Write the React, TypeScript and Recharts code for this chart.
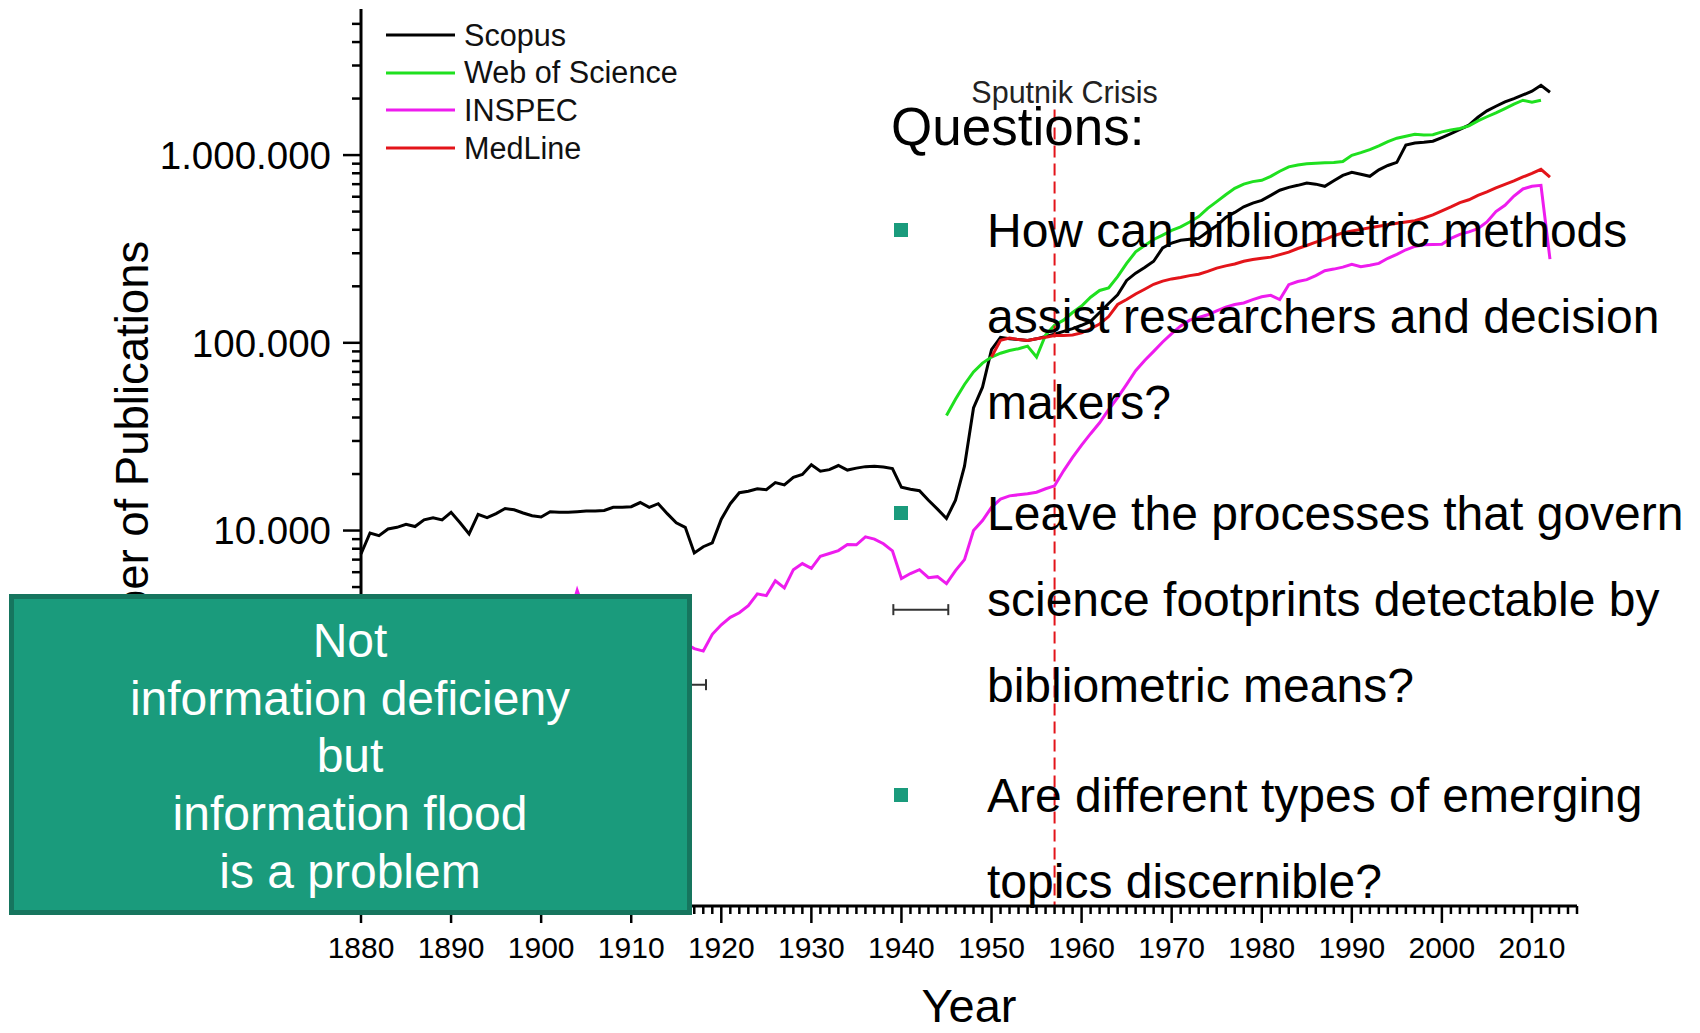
import { LineChart, Line, XAxis, YAxis, Legend, ReferenceLine } from 'recharts';

const FONT = '"Liberation Sans", Arial, sans-serif';

const FIRST_YEAR = 1880;
const LAST_YEAR = 2012;

// Scopus, 1880-2012
const scopus = [
  7500, 9700, 9400, 10200, 10400, 10800, 10500, 11400, 11700, 11400,
  12500, 11000, 9600, 12200, 11700, 12300, 13100, 12900, 12400, 12000,
  11800, 12600, 12500, 12500, 12600, 12700, 12700, 12800, 13300, 13300,
  13400, 14100, 13300, 13900, 12300, 11000, 10400, 7600, 8200, 8600,
  11500, 13900, 15900, 16200, 16700, 16500, 18000, 17500, 19200, 19900,
  22400, 20700, 21100, 22200, 21000, 21500, 21900, 22000, 21800, 21400,
  17000, 16600, 16300, 14500, 13000, 11600, 14500, 22000, 45000, 58000,
  92000, 107000, 105000, 104000, 103000, 105000, 108000, 111000, 115000, 119000,
  124000, 130000, 145000, 162000, 180000, 215000, 235000, 252000, 272000, 320000,
  340000, 352000, 356000, 360000, 390000, 420000, 465000, 495000, 530000, 555000,
  574000, 610000, 650000, 673000, 690000, 710000, 700000, 682000, 730000, 780000,
  809000, 790000, 771000, 835000, 880000, 915000, 1130000, 1160000, 1170000, 1185000,
  1240000, 1300000, 1370000, 1443000, 1590000, 1720000, 1820000, 1920000, 2000000, 2090000,
  2190000, 2355000, 2160000,
];

// Web of Science, 1945-2011
const WOS_START = 1945;
const webOfScience = [
  41000, 50000, 60000, 70000, 78000,
  84000, 88000, 91000, 93000, 96000, 84000, 110000, 124000, 132000, 145000,
  157000, 175000, 190000, 196000, 225000, 265000, 305000, 330000, 355000, 375000,
  397000, 415000, 440000, 470000, 520000, 565000, 615000, 665000, 700000, 722000,
  734000, 770000, 820000, 865000, 885000, 898000, 905000, 910000, 912000, 925000,
  997000, 1030000, 1070000, 1120000, 1180000, 1230000, 1260000, 1290000, 1280000, 1285000,
  1330000, 1360000, 1385000, 1430000, 1520000, 1600000, 1680000, 1770000, 1870000, 1960000,
  1910000, 1960000,
];

// INSPEC, 1898-2012
const INSPEC_START = 1898;
const inspec = [
  2000, 2200,
  2400, 2600, 2900, 3300, 4800, 3500, 3300, 3400, 3500, 3600,
  3700, 3800, 3600, 3700, 3200, 2800, 2500, 2350, 2280, 2800,
  3150, 3450, 3650, 3980, 4600, 4500, 5400, 4950, 6190, 6670,
  6290, 7300, 7550, 7820, 8420, 8400, 9250, 9000, 8500, 7800,
  5550, 5900, 6190, 5610, 5680, 5210, 6120, 7000, 10000, 11300,
  13300, 14700, 15300, 15500, 15700, 16000, 16700, 17300, 20800, 24500,
  28500, 32800, 37500, 44000, 51000, 60000, 71000, 80500, 90000, 101000,
  112000, 123000, 132000, 136400, 141000, 148000, 155000, 160000, 163000, 170000,
  176000, 179000, 170000, 204000, 212000, 217000, 228000, 242000, 247000, 253000,
  262000, 254000, 259000, 265000, 282000, 296000, 313000, 326000, 333000, 334000,
  335000, 360000, 378000, 390000, 405000, 440000, 500000, 540000, 605000, 660000,
  682000, 690000, 279000,
];

// MedLine, 1950-2012
const MEDLINE_START = 1950;
const medline = [
  84000, 103000, 106000, 104000, 103000, 105000, 107000, 109500, 109500, 110000,
  113000, 119000, 126000, 138000, 160000, 170000, 182000, 193000, 205000, 213000,
  219000, 223000, 228000, 232000, 240000, 250000, 257000, 263000, 272000, 278000,
  282000, 286000, 295000, 304000, 318000, 330000, 344000, 355000, 372000, 385000,
  394000, 402000, 410000, 418000, 426000, 433000, 440000, 447000, 462000, 480000,
  505000, 530000, 558000, 578000, 610000, 636000, 668000, 699000, 728000, 765000,
  798000, 840000, 762000,
];

const SERIES = [
  { key: 'scopus', name: 'Scopus', color: '#000000' },
  { key: 'wos', name: 'Web of Science', color: '#1fe01f' },
  { key: 'inspec', name: 'INSPEC', color: '#ee1cee' },
  { key: 'medline', name: 'MedLine', color: '#e3141a' },
];

const Y_MAJOR = [100, 1000, 10000, 100000, 1000000];
const Y_LABELS = ['', '1.000', '10.000', '100.000', '1.000.000'];
const Y_MINOR = [2, 3, 4, 5, 6, 7, 8, 9];

// horizontal scale markers left in the figure
const markers = [
  { from: 1939.1, to: 1945.2, value: 3790 },
  { from: 1912.2, to: 1918.3, value: 1510 },
];

const SPUTNIK_YEAR = 1957;

const QUESTIONS = [
  ['How can bibliometric methods', 'assist researchers and decision', 'makers?'],
  ['Leave the processes that govern', 'science footprints detectable by', 'bibliometric means?'],
  ['Are different types of emerging', 'topics discernible?'],
];
const QUESTION_TOPS = [247, 530, 812];

const BOX_LINES = ['Not', 'information deficieny', 'but', 'information flood', 'is a problem'];

const data: any[] = [];
for (let year = FIRST_YEAR; year <= LAST_YEAR; year++) {
  data.push({
    year,
    scopus: scopus[year - FIRST_YEAR] ?? null,
    wos: webOfScience[year - WOS_START] ?? null,
    inspec: inspec[year - INSPEC_START] ?? null,
    medline: medline[year - MEDLINE_START] ?? null,
  });
}

const yTicks: number[] = [];
Y_MAJOR.forEach((m) => {
  yTicks.push(m);
  if (m < 1000000) Y_MINOR.forEach((k) => yTicks.push(m * k));
});
[2, 3, 4, 5].forEach((k) => yTicks.push(1000000 * k));

const xTicks: number[] = [];
for (let y = 1880; y <= 2015; y++) xTicks.push(y);

const YTick = ({ x, y, payload }: any) => {
  const idx = Y_MAJOR.indexOf(payload.value);
  const major = idx >= 0;
  return (
    <g>
      <line x1={x} x2={x - (major ? 18 : 9)} y1={y} y2={y} stroke="#000" strokeWidth={2.5} />
      {major && Y_LABELS[idx] && (
        <text x={x - 30} y={y} dy="0.36em" textAnchor="end" fontSize={38.5} fill="#000">
          {Y_LABELS[idx]}
        </text>
      )}
    </g>
  );
};

const XTick = ({ x, y, payload }: any) => {
  const major = payload.value % 10 === 0;
  return (
    <g>
      <line x1={x} x2={x} y1={y} y2={y + (major ? 17 : 8)} stroke="#000" strokeWidth={2.5} />
      {major && payload.value <= 2010 && (
        <text x={x} y={y + 52} textAnchor="middle" fontSize={30} fill="#000">
          {payload.value}
        </text>
      )}
    </g>
  );
};

const renderLegend = (props: any) => {
  const order = SERIES.map((s) => s.name);
  const items = [...(props.payload || [])].sort(
    (a: any, b: any) => order.indexOf(a.value) - order.indexOf(b.value)
  );
  return (
    <div>
      {items.map((entry: any) => (
        <div key={entry.value} style={{ display: 'flex', alignItems: 'center', height: 37.7 }}>
          <svg width={78} height={6}>
            <line x1={0} x2={69} y1={3} y2={3} stroke={entry.color} strokeWidth={3} />
          </svg>
          <span style={{ fontSize: 30.6, lineHeight: 1, color: '#111' }}>{entry.value}</span>
        </div>
      ))}
    </div>
  );
};

export default function App() {
  return (
    <div
      style={{
        position: 'absolute',
        left: 0,
        top: 0,
        width: 1700,
        height: 1033,
        background: '#fff',
        fontFamily: FONT,
      }}
    >
      <LineChart width={1700} height={1033} data={data} margin={{ top: 9, right: 123, bottom: 67, left: 241 }}>
        <XAxis
          dataKey="year"
          type="number"
          domain={[1880, 2015]}
          ticks={xTicks}
          interval={0}
          height={60}
          tickSize={0}
          tickMargin={0}
          tickLine={false}
          axisLine={{ stroke: '#000', strokeWidth: 3 }}
          tick={XTick}
        />
        <YAxis
          type="number"
          scale="log"
          domain={[100, 6000000]}
          allowDataOverflow
          ticks={yTicks}
          interval={0}
          width={120}
          tickSize={0}
          tickMargin={0}
          tickLine={false}
          axisLine={{ stroke: '#000', strokeWidth: 3 }}
          tick={YTick}
        />
        <Legend
          layout="vertical"
          align="center"
          verticalAlign="middle"
          content={renderLegend}
          wrapperStyle={{ left: 386, top: 16, width: 300 }}
        />
        {markers.map((m, i) => (
          <ReferenceLine
            key={'h' + i}
            segment={[{ x: m.from, y: m.value }, { x: m.to, y: m.value }]}
            stroke="#333"
            strokeWidth={2}
          />
        ))}
        {markers.flatMap((m, i) =>
          [m.from, m.to].map((x, j) => (
            <ReferenceLine
              key={'c' + i + j}
              segment={[{ x, y: m.value * 1.07 }, { x, y: m.value / 1.07 }]}
              stroke="#333"
              strokeWidth={2}
            />
          ))
        )}
        {SERIES.map((s) => (
          <Line
            key={s.key}
            type="linear"
            dataKey={s.key}
            name={s.name}
            stroke={s.color}
            strokeWidth={3}
            dot={false}
            isAnimationActive={false}
          />
        ))}
        <ReferenceLine
          segment={[{ x: SPUTNIK_YEAR, y: 1750000 }, { x: SPUTNIK_YEAR, y: 100 }]}
          stroke="#e3141a"
          strokeWidth={2}
          strokeDasharray="12 6"
          label={{ value: 'Sputnik Crisis', position: 'top', offset: 6, fontSize: 30.5, fill: '#222', dx: 10 }}
        />
      </LineChart>

      <svg
        width={1700}
        height={1033}
        style={{ position: 'absolute', left: 0, top: 0, pointerEvents: 'none' }}
        fontFamily={FONT}
      >
        <text transform="translate(148,476) rotate(-90)" textAnchor="middle" fontSize={45.5} fill="#000">
          Number of Publications
        </text>
        <text x={969} y={1022} textAnchor="middle" fontSize={47} fill="#000">
          Year
        </text>
        <text x={891} y={145} fontSize={53} fill="#000">
          Questions:
        </text>
        {QUESTIONS.map((lines, i) => (
          <g key={i}>
            <rect x={894} y={QUESTION_TOPS[i] - 24} width={14} height={14} fill="#1a9b7c" />
            {lines.map((line, j) => (
              <text key={j} x={987} y={QUESTION_TOPS[i] + j * 86} fontSize={48} fill="#000">
                {line}
              </text>
            ))}
          </g>
        ))}
        <rect x={11.5} y={596.5} width={678} height={316} fill="#1a9b7c" stroke="#16755e" strokeWidth={5} />
        {BOX_LINES.map((line, i) => (
          <text key={i} x={350} y={657 + i * 57.7} textAnchor="middle" fontSize={48} fill="#fff">
            {line}
          </text>
        ))}
      </svg>
    </div>
  );
}
